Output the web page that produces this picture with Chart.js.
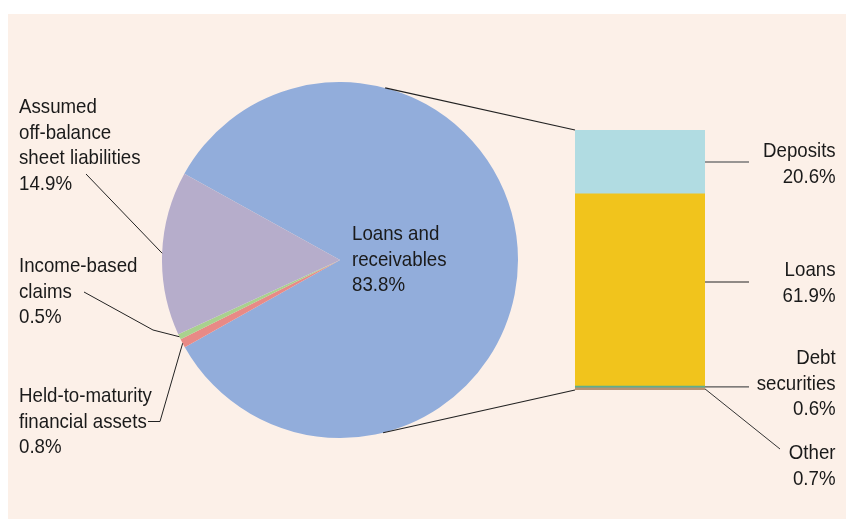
<!DOCTYPE html>
<html>
<head>
<meta charset="utf-8">
<script src="https://cdn.jsdelivr.net/npm/chart.js@4.4.1/dist/chart.umd.min.js"></script>
<style>
  html, body { margin: 0; padding: 0; background: #ffffff; }
  #stage { position: relative; width: 846px; height: 519px; overflow: hidden; background: #ffffff; }
  #panel { position: absolute; left: 8px; top: 14px; width: 838px; height: 505px; background: #FCF0E8; }
  .box { position: absolute; }
  .lbl { position: absolute; font-family: "Liberation Sans", Arial, sans-serif;
         font-size: 21px; line-height: 25.5px; color: #1a1a1a; white-space: nowrap;
         transform: scaleX(0.89); transform-origin: left top; }
  .r { text-align: right; transform-origin: right top; }
  #overlay { position: absolute; left: 0; top: 0; pointer-events: none; }
</style>
</head>
<body>
<div id="stage">
  <div id="panel"></div>
  <div class="box" id="pieBox" style="left:162px;top:82px;width:356px;height:356px;"><canvas id="pie"></canvas></div>
  <div class="box" id="barBox" style="left:575px;top:130px;width:130px;height:260px;"><canvas id="bar"></canvas></div>
  <canvas id="overlay" width="846" height="519"></canvas>

  <div class="lbl" style="left:19px;top:93px;">Assumed<br>off-balance<br>sheet liabilities<br>14.9%</div>
  <div class="lbl" style="left:19px;top:252px;">Income-based<br>claims<br>0.5%</div>
  <div class="lbl" style="left:19px;top:382px;">Held-to-maturity<br>financial assets<br>0.8%</div>
  <div class="lbl" style="left:352px;top:220px;">Loans and<br>receivables<br>83.8%</div>

  <div class="lbl r" style="right:10px;top:137px;">Deposits<br>20.6%</div>
  <div class="lbl r" style="right:10px;top:256px;">Loans<br>61.9%</div>
  <div class="lbl r" style="right:10px;top:344px;">Debt<br>securities<br>0.6%</div>
  <div class="lbl r" style="right:10px;top:439px;">Other<br>0.7%</div>
</div>
<script>
// ---- Data ----
const pieLabels = ["Loans and receivables", "Held-to-maturity financial assets", "Income-based claims", "Assumed off-balance sheet liabilities"];
const pieValues = [83.8, 0.8, 0.5, 14.9];
const pieColors = ["#92ADDB", "#E88A86", "#A9D18E", "#B6ADCB"];

const barLabels = ["Other", "Debt securities", "Loans", "Deposits"];   // bottom to top
const barValues = [0.7, 0.6, 61.9, 20.6];
const barColors = ["#B89272", "#5FAD8C", "#F1C41C", "#B1DCE2"];
const barTotal = 83.8;

Chart.defaults.animation = false;

const pieChart = new Chart(document.getElementById("pie"), {
  type: "pie",
  data: { labels: pieLabels, datasets: [{ data: pieValues, backgroundColor: pieColors, borderWidth: 0 }] },
  options: {
    responsive: true, maintainAspectRatio: false, rotation: 299,
    layout: { padding: 0 },
    plugins: { legend: { display: false }, tooltip: { enabled: false } },
    events: []
  }
});

const barChart = new Chart(document.getElementById("bar"), {
  type: "bar",
  data: {
    labels: ["Loans and receivables"],
    datasets: barLabels.map((l, i) => ({ label: l, data: [barValues[i]], backgroundColor: barColors[i], borderWidth: 0,
      barPercentage: 1, categoryPercentage: 1 }))
  },
  options: {
    responsive: true, maintainAspectRatio: false,
    layout: { padding: 0 },
    scales: {
      x: { stacked: true, display: false },
      y: { stacked: true, display: false, min: 0, max: barTotal }
    },
    plugins: { legend: { display: false }, tooltip: { enabled: false } },
    events: []
  }
});

// ---- Leader and connector lines from chart geometry ----
function drawOverlay() {
  const c = document.getElementById("overlay").getContext("2d");
  c.clearRect(0, 0, 846, 519);
  const pieOff = { x: 162, y: 82 }, barOff = { x: 575, y: 130 };
  const arcs = pieChart.getDatasetMeta(0).data;
  const cx = arcs[0].x + pieOff.x, cy = arcs[0].y + pieOff.y, R = arcs[0].outerRadius;
  const midPt = (a) => { const m = (a.startAngle + a.endAngle) / 2; return [cx + R * Math.cos(m), cy + R * Math.sin(m)]; };
  const angPt = (deg) => [cx + R * Math.cos(deg * Math.PI / 180), cy + R * Math.sin(deg * Math.PI / 180)];

  const bars = barChart.data.datasets.map((d, i) => barChart.getDatasetMeta(i).data[0]);
  const bx0 = bars[0].x - bars[0].width / 2 + barOff.x, bx1 = bars[0].x + bars[0].width / 2 + barOff.x;
  const top = bars[3].y + barOff.y, bottom = bars[0].base + barOff.y;
  const segMid = (b) => (b.y + b.base) / 2 + barOff.y;

  function line(pts, color, w) {
    c.beginPath(); c.strokeStyle = color; c.lineWidth = w || 1;
    c.moveTo(pts[0][0], pts[0][1]);
    for (let i = 1; i < pts.length; i++) c.lineTo(pts[i][0], pts[i][1]);
    c.stroke();
  }
  // connectors pie -> bar
  line([angPt(-75.3), [bx0, top]], "#222", 1.2);
  line([angPt(76), [bx0, bottom]], "#222", 1.2);
  // left leaders
  line([[86, 174], midPt(arcs[3])], "#222", 1);
  line([[84, 292], [153, 330], midPt(arcs[2])], "#222", 1);
  line([[148, 421.5], [160, 421.5], midPt(arcs[1])], "#222", 1);
  // right leaders
  line([[bx1, segMid(bars[3])], [749, segMid(bars[3])]], "#777", 1.5);
  line([[bx1, 282], [749, 282]], "#222", 1);
  line([[bx1, segMid(bars[1])], [749, segMid(bars[1])]], "#555", 1.2);
  line([[bx1, segMid(bars[0])], [780, 449]], "#333", 1);
}
drawOverlay();
</script>
</body>
</html>
